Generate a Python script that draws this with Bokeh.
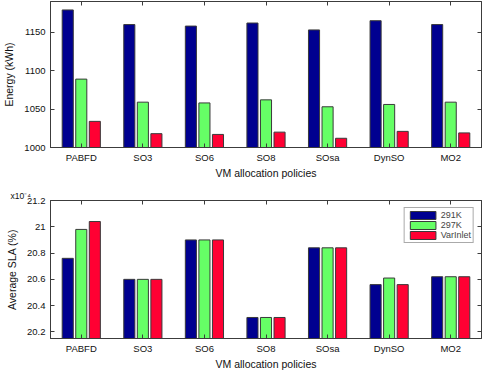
from bokeh.plotting import figure
from bokeh.layouts import column
from bokeh.models import (ColumnDataSource, FactorRange, Range1d, LinearAxis, CategoricalAxis,
                          FixedTicker, Title, Legend)
from bokeh.transform import dodge
from bokeh.embed import file_html
from bokeh.resources import INLINE

policies = ["PABFD", "SO3", "SO6", "SO8", "SOsa", "DynSO", "MO2"]
series = ["291K", "297K", "VarInlet"]
energy_291 = [1179, 1160, 1158, 1162, 1153, 1165, 1160]
energy_297 = [1089, 1059, 1058, 1062, 1053, 1056, 1059]
energy_var = [1034, 1018, 1017, 1020, 1012, 1021, 1019]
sla_291 = [20.76, 20.60, 20.90, 20.31, 20.84, 20.56, 20.62]
sla_297 = [20.98, 20.60, 20.90, 20.31, 20.84, 20.61, 20.62]
sla_var = [21.04, 20.60, 20.90, 20.31, 20.84, 20.56, 20.62]
energy_ticks = [1000, 1050, 1100, 1150]
energy_tick_labels = ["1000", "1050", "1100", "1150"]
sla_ticks = [20.2, 20.4, 20.6, 20.8, 21.0, 21.2]
sla_tick_labels = ["20.2", "20.4", "20.6", "20.8", "21", "21.2"]
sla_multiplier = "x10\u207B\u2074"

colors = ["#000090", "#66FF66", "#FF0033"]
FONT = "Liberation Sans"
AX = "#3c3c3c"
offsets = [-0.22, 0.0, 0.22]
BW = 0.18


def style_axis(ax):
    ax.axis_line_color = AX
    ax.major_tick_line_color = AX
    ax.minor_tick_line_color = None
    ax.major_tick_in = 4
    ax.major_tick_out = 0
    ax.major_label_text_font = FONT
    ax.major_label_text_font_size = "9.5px"
    ax.major_label_text_color = "#111111"
    ax.axis_label_text_font = FONT
    ax.axis_label_text_font_size = "10.5px"
    ax.axis_label_text_font_style = "normal"
    ax.axis_label_text_color = "#111111"


def make_fig(height, yr, ticks, tick_labels, ylabel, cols, border_top, border_bottom):
    src = ColumnDataSource(dict(policy=policies, a=cols[0], b=cols[1], c=cols[2]))
    p = figure(width=482, height=height, x_range=FactorRange(factors=policies),
               y_range=Range1d(*yr), output_backend="svg", toolbar_location=None,
               min_border_left=40, min_border_right=1, min_border_top=border_top,
               min_border_bottom=border_bottom)
    p.xgrid.visible = False
    p.ygrid.visible = False
    p.outline_line_color = AX
    p.background_fill_color = "white"
    renderers = []
    for key, off, col in zip(["a", "b", "c"], offsets, colors):
        r = p.vbar(x=dodge("policy", off, range=p.x_range), top=key, width=BW, source=src,
                   fill_color=col, line_color="#3a3a3a", line_width=1)
        renderers.append(r)
    p.xaxis.axis_label = "VM allocation policies"
    p.yaxis.axis_label = ylabel
    p.yaxis.ticker = FixedTicker(ticks=ticks)
    p.yaxis.major_label_overrides = {t: l for t, l in zip(ticks, tick_labels)}
    style_axis(p.xaxis[0])
    style_axis(p.yaxis[0])
    p.xaxis.major_label_standoff = 4
    p.xaxis.axis_label_standoff = 1
    p.yaxis.major_label_standoff = 5
    p.yaxis.axis_label_standoff = 6
    top = CategoricalAxis()
    right = LinearAxis(ticker=FixedTicker(ticks=ticks))
    style_axis(top)
    style_axis(right)
    for ax in (top, right):
        ax.major_label_text_color = None
        ax.major_label_text_font_size = "1px"
        ax.major_label_standoff = 0
    p.add_layout(top, "above")
    p.add_layout(right, "right")
    return p, renderers


p1, _ = make_fig(181, (1000, 1190), energy_ticks, energy_tick_labels, "Energy (kWh)",
                 [energy_291, energy_297, energy_var], 1, 34)
p2, rs = make_fig(191, (20.15, 21.2), sla_ticks, sla_tick_labels, "Average SLA (%)",
                  [sla_291, sla_297, sla_var], 19, 27)

legend = Legend(items=[(s, [r]) for s, r in zip(series, rs)], location="top_right")
legend.label_text_font = FONT
legend.label_text_font_size = "9px"
legend.glyph_width = 32
legend.glyph_height = 10
legend.label_height = 10
legend.spacing = 0
legend.padding = 2
legend.label_standoff = 2
legend.margin = 7
legend.border_line_color = "#555555"
legend.background_fill_alpha = 1
p2.add_layout(legend, "center")

p2.add_layout(Title(text=sla_multiplier, align="left", offset=-40, standoff=0,
                    text_font=FONT, text_font_size="8.5px", text_font_style="normal",
                    text_color="#111111"), "above")

layout = column(p1, p2, spacing=0)
open("out.html", "w").write(file_html(layout, INLINE))
